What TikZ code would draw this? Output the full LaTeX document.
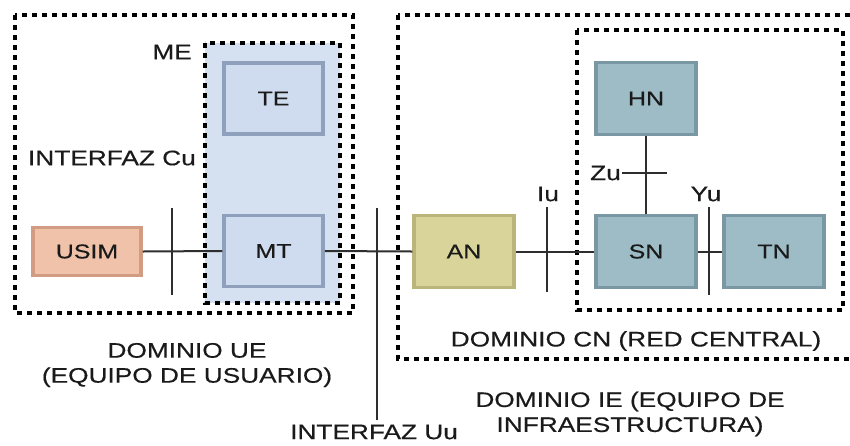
\documentclass[tikz,border=0pt]{standalone}
\usepackage{fontspec}
\setmainfont{Liberation Sans}[FakeStretch=1.25, FakeBold=0.4]
\definecolor{txt}{HTML}{1A1A1A}
\definecolor{ln}{HTML}{2E2E2E}
\definecolor{mebg}{HTML}{D5E0F0}
\definecolor{bluefill}{HTML}{CFDCEF}
\definecolor{blueedge}{HTML}{8EA0BB}
\definecolor{tealfill}{HTML}{9DBCC5}
\definecolor{tealedge}{HTML}{7A98A3}
\definecolor{anfill}{HTML}{D9D59A}
\definecolor{anedge}{HTML}{BAB57A}
\definecolor{usfill}{HTML}{F0C2AA}
\definecolor{usedge}{HTML}{D29C82}
\tikzset{
  dotbox/.style={draw=black, line width=4pt, dash pattern=on 5pt off 5pt},
  blk/.style={draw, line width=3.5pt, minimum width=99pt, minimum height=71pt, inner sep=0pt, text=txt, font=\fontsize{20}{24}\selectfont},
  bluebox/.style={blk, fill=bluefill, draw=blueedge},
  tealbox/.style={blk, fill=tealfill, draw=tealedge},
  anbox/.style={blk, fill=anfill, draw=anedge},
  usbox/.style={blk, fill=usfill, draw=usedge},
  lbl/.style={inner sep=0pt, text=txt, font=\fontsize{21}{25}\selectfont, align=center},
  wire/.style={draw=ln, line width=2pt},
}
\begin{document}
\begin{tikzpicture}[x=1pt, y=-1pt]
\clip (0,0) rectangle (850,445);
\fill[white] (0,0) rectangle (850,445);
% ME background
\fill[mebg] (205,43) rectangle (340,303);
% dotted domains
\draw[dotbox] (15,15) rectangle (353,313);
\draw[dotbox] (205,43) rectangle (340,303);
\draw[dotbox] (398,15) rectangle (870,359);
\draw[dotbox] (577,30) rectangle (843,310);
% boxes
\node[bluebox] (TE) at (273.5,98.5) {TE};
\node[bluebox] (MT) at (273.5,251) {MT};
\node[usbox, minimum width=108pt, minimum height=48pt] (USIM) at (87,251.5) {USIM};
\node[anbox, minimum width=100pt, minimum height=72pt] (AN) at (464,251.5) {AN};
\node[tealbox, minimum width=100pt, minimum height=72pt] (SN) at (646,251.5) {SN};
\node[tealbox, minimum width=100pt, minimum height=72pt] (HN) at (646,98.5) {HN};
\node[tealbox, minimum width=100pt, minimum height=72pt] (TN) at (774,251.5) {TN};
% connectors
\draw[wire] (USIM.east) -- (MT.west);
\draw[wire] (MT.east) -- (AN.west);
\draw[wire] (AN.east) -- (SN.west);
\draw[wire] (SN.east) -- (TN.west);
\draw[wire] (HN.south) -- (SN.north);
% interface ticks
\coordinate (cuT) at (172,208); \coordinate (cuB) at (172,295);
\coordinate (uuT) at (377,208); \coordinate (uuB) at (377,420);
\coordinate (iuT) at (547,207); \coordinate (iuB) at (547,292);
\coordinate (yuT) at (709,207); \coordinate (yuB) at (709,295);
\coordinate (zuL) at (622,173); \coordinate (zuR) at (667,173);
\draw[wire] (cuT) -- (cuB);
\draw[wire] (uuT) -- (uuB);
\draw[wire] (iuT) -- (iuB);
\draw[wire] (yuT) -- (yuB);
\draw[wire] (zuL) -- (zuR);
% labels
\node[lbl, anchor=east] (me) at (192,52) {ME};
\node[lbl, anchor=east] (cu) at (196,158) {INTERFAZ Cu};
\node[lbl] (iu) at (548,194) {Iu};
\node[lbl] (yu) at (706,194) {Yu};
\node[lbl, anchor=east] (zu) at (621,173) {Zu};
\node[lbl] (uu) at (374,432) {INTERFAZ Uu};
\node[lbl] (ue) at (187,365) {DOMINIO UE\\(EQUIPO DE USUARIO)};
\node[lbl] (cn) at (636,341) {DOMINIO CN (RED CENTRAL)};
\node[lbl] (ie) at (630,414) {DOMINIO IE (EQUIPO DE\\INFRAESTRUCTURA)};
\end{tikzpicture}
\end{document}
